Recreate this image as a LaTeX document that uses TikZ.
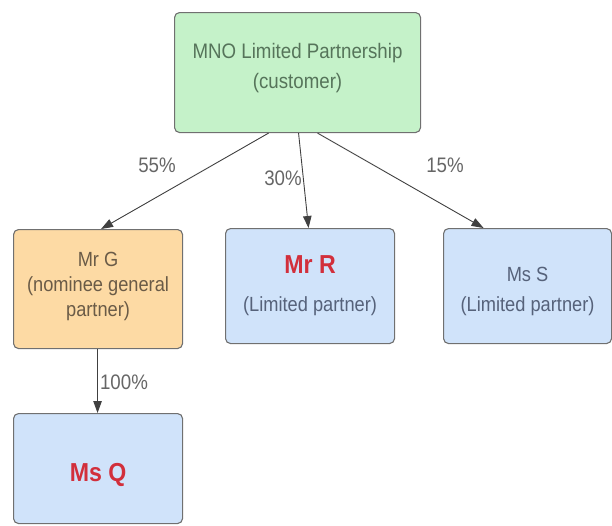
\documentclass[tikz,border=0pt]{standalone}
\usepackage{fontspec}
\setmainfont{Liberation Sans}[FakeStretch=0.89]
\usetikzlibrary{arrows.meta}
\definecolor{boxline}{HTML}{707070}
\definecolor{greenfill}{HTML}{C5F2C9}
\definecolor{orangefill}{HTML}{FDDAA4}
\definecolor{bluefill}{HTML}{D0E3FA}
\definecolor{greentext}{HTML}{56745A}
\definecolor{browntext}{HTML}{6A5B47}
\definecolor{bluetext}{HTML}{56627A}
\definecolor{nametext}{HTML}{D22F3B}
\definecolor{pcttext}{HTML}{666666}
\definecolor{arrowline}{HTML}{404040}
\begin{document}
\begin{tikzpicture}[x=1pt,y=-1pt,
  box/.style={draw=boxline, line width=1.1pt, rounded corners=5pt,
    anchor=north west, inner sep=0pt},
  label text/.style={align=center, inner sep=0pt},
  arr/.style={draw=arrowline, line width=0.9pt,
    -{Triangle[length=12pt,width=8.5pt]}},
  pct/.style={text=pcttext, font=\fontsize{21}{24}\selectfont}]
\useasboundingbox (0,0) rectangle (612,525);

% boxes
\node[box, fill=greenfill, minimum width=246pt, minimum height=120pt] (mno) at (174,12) {};
\node[box, fill=orangefill, minimum width=169pt, minimum height=119pt] (g) at (13,229) {};
\node[box, fill=bluefill, minimum width=169pt, minimum height=115pt] (r) at (225,228) {};
\node[box, fill=bluefill, minimum width=168pt, minimum height=115pt] (s) at (443,228) {};
\node[box, fill=bluefill, minimum width=169pt, minimum height=110pt] (q) at (13,413) {};

% box texts
\node[label text, text=greentext, font=\fontsize{21}{30}\selectfont]
  (mno-t) at ([yshift=4pt]mno.center) {MNO Limited Partnership\\(customer)};
\node[label text, text=browntext, font=\fontsize{20.5}{25}\selectfont]
  (g-t) at ([yshift=2.5pt]g.center) {Mr G\\(nominee general\\partner)};
\node[label text, text=bluetext, font=\fontsize{20.5}{38}\selectfont]
  (r-t) at ([yshift=0pt]r.center)
  {{\fontsize{26}{28}\selectfont\bfseries\color{nametext}Mr R}\\(Limited partner)};
\node[label text, text=bluetext, font=\fontsize{20.5}{30}\selectfont]
  (s-t) at ([yshift=-5pt]s.center) {Ms S\\(Limited partner)};
\node[label text, text=nametext, font=\fontsize{26}{28}\selectfont\bfseries]
  (q-t) at ([yshift=-6pt]q.center) {Ms Q};

% ownership arrows
\draw[arr] ([xshift=-29pt]mno.south) -- ([xshift=3pt]g.north);
\draw[arr] ([xshift=1pt]mno.south) -- ([xshift=-1.5pt]r.north);
\draw[arr] ([xshift=20pt]mno.south) -- ([xshift=-44pt]s.north);
\draw[arr] ([xshift=-0.5pt]g.south) -- ([xshift=-0.5pt]q.north);

% percentages
\node[pct] (p55) at (157,165) {55\%};
\node[pct] (p30) at (283,178) {30\%};
\node[pct] (p15) at (445,165) {15\%};
\node[pct] (p100) at (124,382) {100\%};
\end{tikzpicture}
\end{document}
